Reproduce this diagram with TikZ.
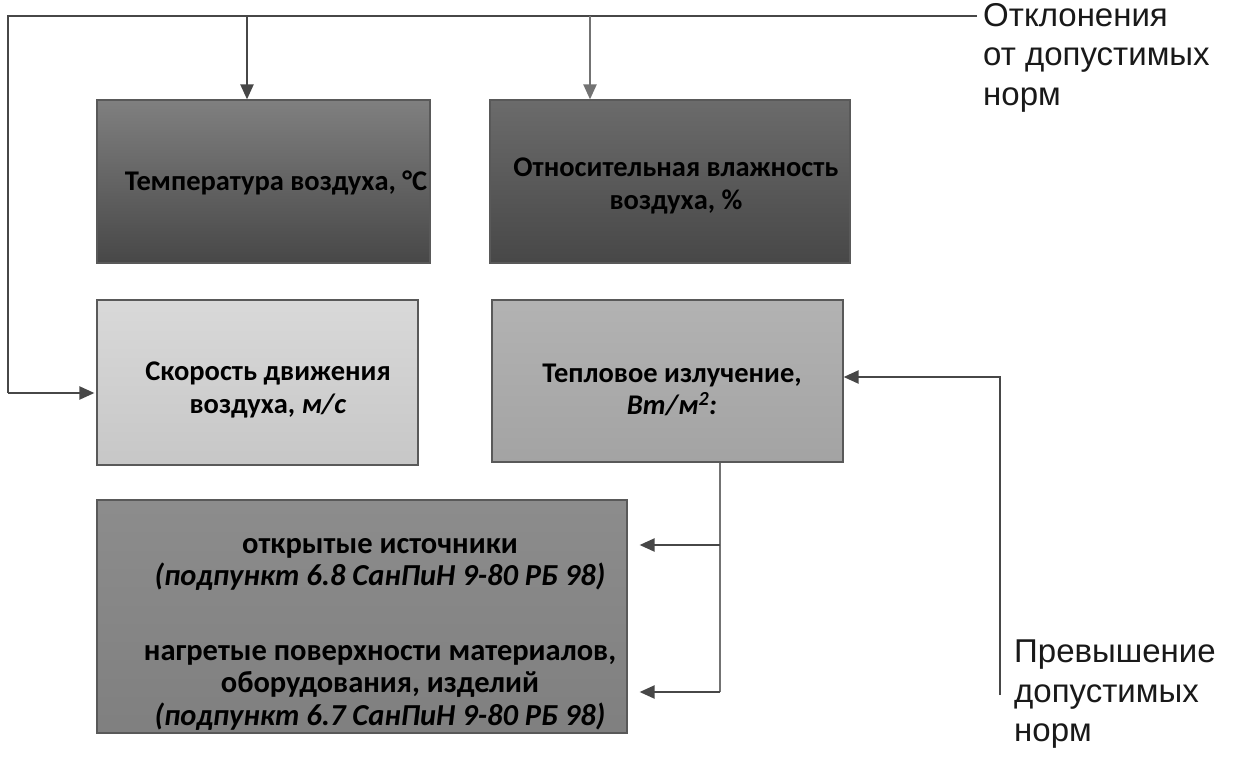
\documentclass[tikz,border=0pt]{standalone}
\usepackage{fontspec}
\setmainfont{Carlito}
\newfontfamily\arialf{Liberation Sans}
\usetikzlibrary{arrows.meta,calc}
\begin{document}
\begin{tikzpicture}[x=1pt,y=-1pt,
  box/.style={rectangle,inner sep=0pt,draw=black!65,line width=1.2pt},
  btext/.style={inner sep=0pt,align=center,text=black,font=\bfseries\fontsize{28.5}{32.5}\selectfont},
  conn/.style={draw=black!72,line width=2.2pt},
  arr/.style={conn,-{Triangle[width=13pt,length=15pt]}},
  lbl/.style={font=\arialf\fontsize{33}{39.5}\selectfont,align=left,inner sep=0pt,anchor=north west,text=black!90}]
\fill[white] (0,0) rectangle (1242,781);
\useasboundingbox (0,0) rectangle (1242,781);
% boxes
\node[box,minimum width=333pt,minimum height=163pt,top color=black!50,bottom color=black!72] (b1) at (263.5,181.5) {};
\node[box,minimum width=360pt,minimum height=163pt,top color=black!58,bottom color=black!72] (b2) at (670,181.5) {};
\node[box,minimum width=321pt,minimum height=165pt,top color=black!15,bottom color=black!22] (b3) at (257.5,382.5) {};
\node[box,minimum width=351pt,minimum height=162pt,top color=black!30,bottom color=black!36] (b4) at (667.5,381) {};
\node[box,minimum width=530pt,minimum height=233pt,top color=black!45,bottom color=black!50] (b5) at (362,616.5) {};
% box texts
\node[btext] (t1) at (276,183) {Температура воздуха, °С};
\node[btext] (t2) at (676,186) {Относительная влажность\\ воздуха, \%};
\node[btext] (t3) at (268,390) {Скорость движения\\ воздуха, \textit{м/с}};
\node[btext] (t4) at (672,390) {Тепловое излучение,\\ \textit{Вт/м\textsuperscript{2}:}};
\node[btext,font=\bfseries\fontsize{30.5}{32.5}\selectfont] (t5) at (380,634) {открытые источники\\ \textit{(подпункт 6.8 СанПиН 9-80 РБ 98)}\\[42pt] нагретые поверхности материалов,\\ оборудования, изделий\\ \textit{(подпункт 6.7 СанПиН 9-80 РБ 98)}};
% labels
\node[lbl] (otk) at (983,3) {Отклонения\\от допустимых\\норм};
\node[lbl] (prev) at (1014,640) {Превышение\\допустимых\\норм};
% coordinates
\coordinate (tr) at (977,16);
\coordinate (tl) at (8,16);
\coordinate (lb) at (8,393);
\coordinate (a1) at (247,16);
\coordinate (a2) at (590,16);
\coordinate (rb) at (1000,695);
\coordinate (rt) at (1000,377);
\coordinate (vt) at (720,463);
\coordinate (vm) at (720,545);
\coordinate (vb) at (720,692);
% connectors
\draw[conn] (tr) -- (tl) -- (lb);
\draw[arr] (lb) -- ($(lb -| b3.west)+(-2,0)$);
\draw[arr] (a1) -- (a1 |- b1.north);
\draw[arr,draw=black!55] (a2) -- (a2 |- b2.north);
\draw[arr] (rb) -- (rt) -- (rt -| b4.east);
\draw[conn,draw=black!55] (vt) -- (vb);
\draw[arr] (vm) -- ($(vm -| b5.east)+(12,0)$);
\draw[arr] (vb) -- ($(vb -| b5.east)+(12,0)$);
\end{tikzpicture}
\end{document}
